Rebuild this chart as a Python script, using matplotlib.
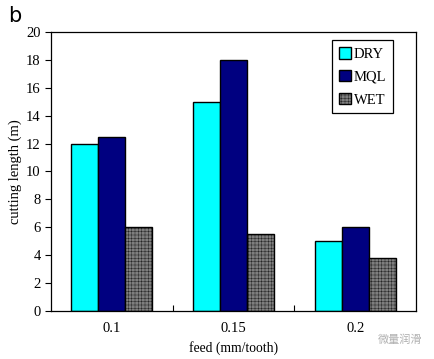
import matplotlib.pyplot as plt
import numpy as np

feeds = ['0.1', '0.15', '0.2']
dry = [12, 15, 5]
mql = [12.5, 18, 6]
wet = [6, 5.5, 3.8]
series = ['DRY', 'MQL', 'WET']
colors = ['#00ffff', '#000080', '#7e7e7e']

plt.rcParams['font.family'] = ['Liberation Serif', 'DejaVu Serif']
plt.rcParams['hatch.color'] = '#9c9c9c'
plt.rcParams['hatch.linewidth'] = 0.25

fig = plt.figure(figsize=(4.34, 3.59), dpi=100)
ax = fig.add_axes([0.1175, 0.134, 0.841, 0.777])

x = np.arange(len(feeds))
w = 0.222
for i, (vals, c, name) in enumerate(zip([dry, mql, wet], colors, series)):
    kw = dict(color=c, edgecolor='black', linewidth=1.0, label=name, zorder=2)
    if name == 'WET':
        kw['hatch'] = '+++++'
    ax.bar(x + (i - 1) * w, vals, w, **kw)

ax.set_xlim(-0.5, 2.5)
ax.set_ylim(0, 20)
ax.set_yticks(range(0, 21, 2))
ax.tick_params(axis='y', direction='out', length=4, labelsize=10.5, width=0.8)
ax.set_xticks(x)
ax.set_xticklabels(feeds, fontsize=10.5)
ax.tick_params(axis='x', length=0, pad=8)
ax.set_xticks([0.5, 1.5], minor=True)
ax.tick_params(axis='x', which='minor', direction='in', length=4, width=0.8)
for s in ax.spines.values():
    s.set_linewidth(0.9)

ax.set_ylabel('cutting length (m)', fontsize=10.5, labelpad=3)
ax.set_xlabel('feed (mm/tooth)', fontsize=9.8, labelpad=4)

leg = ax.legend(loc='upper right', bbox_to_anchor=(0.936, 0.97), fontsize=10.5,
                fancybox=False, edgecolor='black', framealpha=1,
                handlelength=0.85, handleheight=0.85, handletextpad=0.15,
                labelspacing=0.62, borderpad=0.45, borderaxespad=0)
leg.get_frame().set_linewidth(0.9)

fig.text(0.018, 0.955, 'b', fontsize=15, family='DejaVu Sans', va='center')
fig.text(0.87, 0.055, '微量润滑', fontsize=8, color='#b0b0b0',
         family=['Noto Sans CJK SC', 'DejaVu Sans'], va='center')

fig.savefig('out.png', dpi=100)
